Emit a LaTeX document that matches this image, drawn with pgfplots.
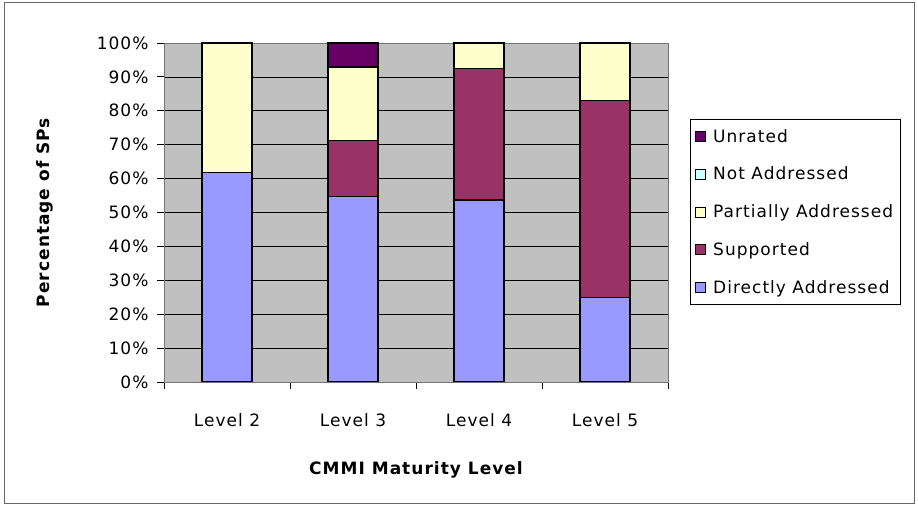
\documentclass[border=0pt]{standalone}
\usepackage{fontspec}
\setmainfont{DejaVu Sans}[LetterSpace=6]
\usepackage{pgfplots}
\pgfplotsset{compat=1.18}
\definecolor{directly}{HTML}{9999FF}
\definecolor{supported}{HTML}{993366}
\definecolor{partially}{HTML}{FFFFCC}
\definecolor{notaddr}{HTML}{CCFFFF}
\definecolor{unrated}{HTML}{660066}
\definecolor{plotgray}{HTML}{C0C0C0}
\begin{document}
\begin{tikzpicture}
\path[use as bounding box] (0,0) rectangle (918bp,506bp);
\draw[line width=1bp, black!60] (4bp,2bp) rectangle (914bp,503bp);
\begin{axis}[
  at={(164bp,124bp)}, anchor=south west,
  scale only axis, width=504bp, height=339bp,
  ybar stacked, bar width=50bp,
  xmin=0.5, xmax=4.5, ymin=0, ymax=100,
  axis background/.style={fill=plotgray},
  axis line style={draw=black!55, line width=0.8bp},
  xtick={1,2,3,4},
  xticklabels={Level 2,Level 3,Level 4,Level 5},
  major x tick style={draw=none},
  minor xtick={0.5,1.5,2.5,3.5,4.5},
  minor x tick style={draw=black, line width=0.8bp},
  ytick={0,10,...,100},
  yticklabel={\pgfmathprintnumber{\tick}\%},
  y tick style={draw=black, line width=0.8bp},
  tick align=outside,
  major tick length=7bp, minor tick length=7bp,
  xtick pos=bottom, ytick pos=left,
  ymajorgrids, grid style={black, line width=0.7bp},
  /pgf/number format/assume math mode=true,
  tick label style={font=\fontsize{17bp}{20bp}\selectfont},
  xticklabel style={yshift=-21bp},
  yticklabel style={xshift=-5bp},
  xlabel={\bfseries CMMI Maturity Level},
  ylabel={\bfseries Percentage of SPs},
  label style={font=\fontsize{17bp}{20bp}\selectfont},
  xlabel style={at={(axis description cs:0.5,-0.2595)}, anchor=center},
  ylabel style={at={(axis description cs:-0.236,0.5)}, anchor=center},
  reverse legend,
  legend cell align=left,
  legend image code/.code={\draw[#1, draw=black, line width=0.8bp] (0bp,-5bp) rectangle (10bp,5bp);},
  legend style={at={(1.0437,0.776)}, anchor=north west, draw=black, line width=0.8bp,
    font=\fontsize{17bp}{20bp}\selectfont, row sep=19.3bp, inner xsep=5bp, inner ysep=8bp,
    /tikz/every odd column/.append style={column sep=5bp},
    /tikz/every even column/.append style={column sep=0bp}},
  every axis plot/.append style={draw=black, line width=1.3bp},
]
\addplot[fill=directly] coordinates {(1,61.7) (2,54.7) (3,53.7) (4,25.0)};
\addplot[fill=supported] coordinates {(1,0) (2,16.5) (3,38.7) (4,58.1)};
\addplot[fill=partially] coordinates {(1,38.3) (2,21.7) (3,7.6) (4,16.9)};
\addplot[fill=notaddr, draw=none] coordinates {(1,0) (2,0) (3,0) (4,0)};
\addplot[fill=unrated] coordinates {(1,0) (2,7.1) (3,0) (4,0)};
\legend{Directly Addressed,Supported,Partially Addressed,Not Addressed,Unrated}
\end{axis}
\end{tikzpicture}
\end{document}
